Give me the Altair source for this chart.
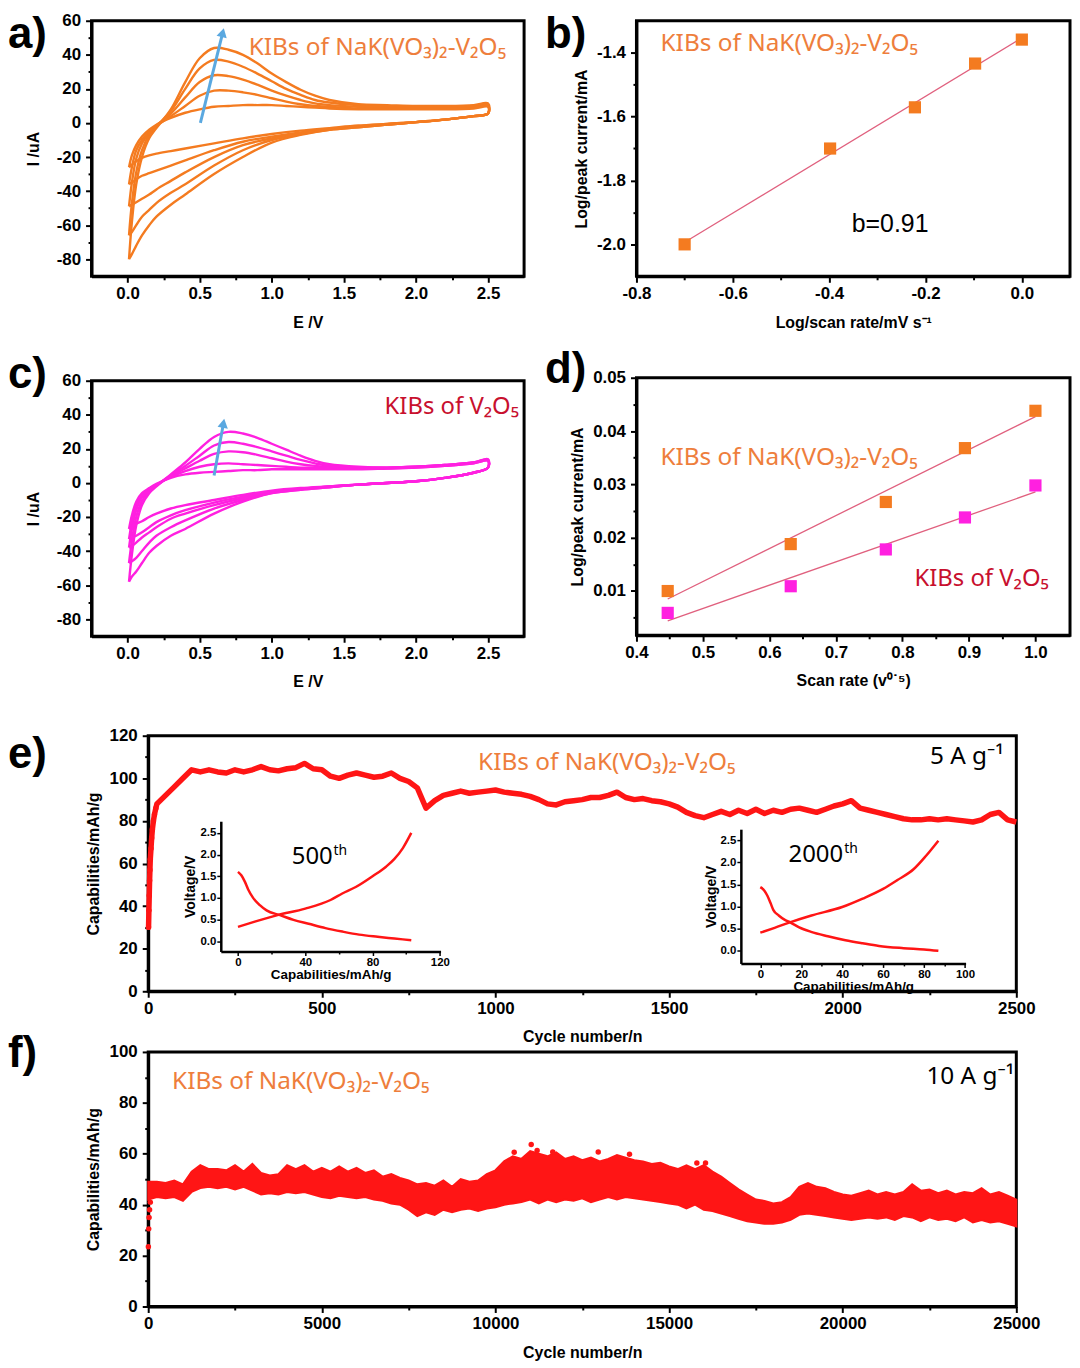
import altair as alt
import pandas as pd

FONT = "Liberation Sans"
ANN = "Noto Sans"
LBL = "Liberation Sans"

ORANGE = "#F47B20"
ORANGE_TXT = "#EE7E3C"
MAGENTA = "#FF20E0"
DARKRED = "#C8102E"
RED = "#FF1515"
FIT = "#E0607E"
BLUE = "#5AA8E0"

# ---------------- a) / c) cyclic voltammetry ----------------
E_ANODIC = [0.01, 0.03, 0.06, 0.1, 0.15, 0.2, 0.3, 0.4, 0.5, 0.6, 0.7, 0.8, 0.9, 1.0,
            1.1, 1.2, 1.3, 1.4, 1.6, 1.8, 2.0, 2.2, 2.4, 2.5]
E_CATHODIC = [2.5, 2.4, 2.2, 2.0, 1.8, 1.6, 1.4, 1.2, 1.0, 0.8, 0.6, 0.4, 0.3, 0.2, 0.15,
              0.1, 0.06, 0.03, 0.01]

A_ANODIC = [
    [-80, -58, -36, -20, -9, -3, 8, 24, 38, 44, 43, 40, 35, 29, 24, 19.5, 16, 13.5, 11, 10.5, 10, 10, 10.5, 11.5],
    [-66, -47, -29, -16, -7, -2, 7, 20, 32, 37, 36, 33, 29, 24.5, 20, 16.5, 13.5, 12, 10.5, 10, 9.5, 9.5, 10, 11],
    [-49, -35, -21, -12, -6, -1.5, 5.5, 15, 24, 28, 27.5, 25.5, 22.5, 19, 16, 13.5, 11.5, 10.5, 9.5, 9, 9, 9, 9.5, 10.5],
    [-36, -26, -16, -10, -5, -1.5, 4, 10, 16, 19, 19, 18, 16.5, 14.5, 12.5, 11, 10, 9.5, 8.5, 8.5, 8.5, 8.5, 9, 10],
    [-26, -19, -13, -8, -4, -1, 3, 6, 8, 9.5, 10, 10.5, 10.5, 10.5, 10, 9.5, 9, 8.5, 8, 8, 8, 8, 8.5, 9.5],
]
A_CATHODIC = [
    [5.5, 4, 2, 0.5, -1, -2.5, -4, -7, -11.5, -20, -30, -42, -48, -55, -60, -66, -72, -77, -80],
    [5.5, 4, 2, 0.5, -1, -2.5, -4, -6.5, -10, -16, -25, -36, -41, -47, -51, -55, -60, -64, -66],
    [5.5, 4, 2, 0.5, -1, -2, -3.5, -6, -9, -13, -20, -29, -34, -39, -42, -44.5, -46.5, -48, -49],
    [5.5, 4, 2, 0.5, -0.5, -2, -3.5, -5.5, -8, -11, -16, -22, -25, -28, -29.5, -31, -33, -35, -36],
    [5.5, 4, 2, 0.5, -0.5, -1.5, -3, -4.5, -6.5, -9, -12, -15, -16.5, -18, -19, -20.5, -22.5, -24.5, -26],
]
C_ANODIC = [
    [-58, -42, -25, -13, -6, -2, 5, 12, 20, 27, 30, 29, 26.5, 23, 19.5, 16, 13, 11, 9.5, 9, 9.5, 10.5, 12, 14],
    [-47, -34, -20, -10.5, -5, -1.5, 4.5, 10, 16, 22, 24, 23, 21, 18.5, 16, 13.5, 11.5, 10, 9, 9, 9.5, 10.5, 12, 13.5],
    [-38, -27, -16, -8.5, -4.5, -1.5, 4, 8.5, 13, 17, 18.5, 18, 16.5, 14.5, 12.5, 11, 10, 9.5, 9, 9, 9.5, 10.5, 12, 13.5],
    [-33, -23, -13, -7.5, -4, -1, 3.5, 7, 9.5, 11, 11.5, 11, 10.5, 10, 9.5, 9, 9, 8.5, 8.5, 8.5, 9, 10, 11.5, 13],
    [-27, -19, -11, -6, -3, -0.5, 3, 5, 6, 6.5, 7, 7.5, 7.5, 8, 8, 8, 8, 8, 8, 8.5, 9, 10, 11.5, 13],
]
C_CATHODIC = [
    [9, 6, 3, 1, 0, -1, -2.5, -4, -6, -11, -18, -27, -31, -37, -41, -47, -52, -55, -58],
    [9, 6, 3, 1, 0, -1, -2.5, -4, -6, -10, -15, -22, -26, -31, -35, -40, -44, -46, -47],
    [9, 6, 3, 1, 0, -1, -2, -3.5, -5.5, -9, -13, -18, -21, -26, -29, -32, -35, -37, -38],
    [9, 6, 3, 1, 0, -1, -2, -3.5, -5, -8, -11.5, -16, -19, -23, -26, -29, -31, -32, -33],
    [9, 6, 3, 1, 0, -1, -2, -3, -4.5, -7, -10, -13, -15, -18, -20, -22.5, -24, -26, -27],
]
ARROW_A_E = [0.505, 0.66]
ARROW_A_I = [0.0, 53.0]
ARROW_C_E = [0.60, 0.665]
ARROW_C_I = [4.4, 35.0]
CV_XDOM = [-0.25, 2.75]
CV_YDOM = [-90, 60]
CV_XTICKS = [0.0, 0.5, 1.0, 1.5, 2.0, 2.5]
CV_XMINOR = [0.25, 0.75, 1.25, 1.75, 2.25]
CV_YTICKS = [-80, -60, -40, -20, 0, 20, 40, 60]
CV_YMINOR = [-70, -50, -30, -10, 10, 30, 50]

# ---------------- b) ----------------
B_LOGV = [-0.7, -0.398, -0.222, -0.097, 0.0]
B_LOGI = [-2.0, -1.70, -1.571, -1.434, -1.359]
B_XDOM = [-0.8, 0.1]
B_YDOM = [-2.1, -1.3]
B_XTICKS = [-0.8, -0.6, -0.4, -0.2, 0.0]
B_XMINOR = [-0.7, -0.5, -0.3, -0.1]
B_YTICKS = [-2.0, -1.8, -1.6, -1.4]
B_YMINOR = [-1.9, -1.7, -1.5]

# ---------------- d) ----------------
D_SQRTV = [0.447, 0.632, 0.775, 0.894, 1.0]
D_NAK = [0.0100, 0.0188, 0.0267, 0.0368, 0.0438]
D_V2O5 = [0.0059, 0.0109, 0.0178, 0.0238, 0.0298]
D_XDOM = [0.4, 1.052]
D_YDOM = [0.0017, 0.05]
D_XTICKS = [0.4, 0.5, 0.6, 0.7, 0.8, 0.9, 1.0]
D_XMINOR = [0.45, 0.55, 0.65, 0.75, 0.85, 0.95]
D_YTICKS = [0.01, 0.02, 0.03, 0.04, 0.05]
D_YMINOR = [0.005, 0.015, 0.025, 0.035, 0.045]

# ---------------- e) 5 A/g cycling ----------------
E_EARLY_CYC = [1, 2, 3, 4, 5, 6, 8, 10, 12, 15, 18, 22]
E_EARLY_CAP = [30, 38, 45, 52, 57, 62, 67, 72, 76, 80, 83, 86]
E_CYC = list(range(25, 2501, 25))
E_CAP = [88, 92, 96, 100, 104, 103, 104, 103, 102.5, 104,
         103, 104, 105.5, 104, 103.5, 104.5, 105, 107, 104.5, 104,
         101, 100, 101.5, 102.5, 101.5, 100.5, 101, 102.5, 100, 98.5,
         95.5, 86, 89.5, 92, 93, 94, 93, 93.5, 94, 94.5,
         93.5, 93, 92.5, 91.5, 90, 88, 87.5, 89, 89.5, 90,
         91, 91, 92, 93.5, 91, 90, 90.5, 89.5, 89, 88,
         86.5, 84, 82.5, 81.5, 83, 84.5, 83, 85, 83.5, 85.5,
         83.5, 85, 84, 85.5, 86, 85, 84, 85.5, 87, 88,
         89.5, 86, 85, 84, 83, 82, 81, 80.5, 80.5, 81,
         80.5, 81, 80.5, 80, 79.5, 80.5, 83, 84, 80.5, 79.5]
E_XDOM = [0, 2500]
E_YDOM = [0, 120]
E_XTICKS = [0, 500, 1000, 1500, 2000, 2500]
E_XMINOR = [250, 750, 1250, 1750, 2250]
E_YTICKS = [0, 20, 40, 60, 80, 100, 120]
E_YMINOR = [10, 30, 50, 70, 90, 110]

INS1_CHG_Q = [0, 10, 23.5, 40, 55, 62, 70, 80, 88, 93, 98, 103]
INS1_CHG_V = [0.33, 0.45, 0.6, 0.75, 0.95, 1.1, 1.25, 1.5, 1.72, 1.9, 2.15, 2.5]
INS1_DIS_Q = [0, 2, 4, 6, 9, 13, 17, 25, 33, 42, 52, 62, 72, 83, 93, 103]
INS1_DIS_V = [1.6, 1.52, 1.38, 1.2, 1.0, 0.83, 0.71, 0.6, 0.49, 0.4, 0.3, 0.22, 0.15, 0.1, 0.06, 0.02]
INS2_CHG_Q = [0, 7, 14.8, 25, 40, 50, 60, 67, 75, 81, 87]
INS2_CHG_V = [0.41, 0.52, 0.65, 0.8, 0.99, 1.18, 1.4, 1.6, 1.85, 2.15, 2.49]
INS2_DIS_Q = [0, 2, 3.4, 5, 6.4, 9, 12, 14.8, 19, 24.8, 33, 41.6, 50, 58, 70, 80, 87]
INS2_DIS_V = [1.44, 1.36, 1.25, 1.08, 0.92, 0.8, 0.7, 0.64, 0.53, 0.43, 0.33, 0.24, 0.17, 0.11, 0.06, 0.03, 0.0]
INS1_XDOM = [-10.2, 120.4]
INS1_YDOM = [-0.24, 2.77]
INS2_XDOM = [-9.5, 100.3]
INS2_YDOM = [-0.285, 2.75]
INS1_XTICKS = [0, 40, 80, 120]
INS1_XMINOR = [20, 60, 100]
INS2_XTICKS = [0, 20, 40, 60, 80, 100]
INS2_XMINOR = [10, 30, 50, 70, 90]
INS_YTICKS = [0.0, 0.5, 1.0, 1.5, 2.0, 2.5]

# ---------------- f) 10 A/g cycling ----------------
F_CYC = list(range(0, 25001, 250))
F_LOW = [42, 43, 42.5, 43, 41.5, 45, 46.5, 47, 46.5, 47,
         46, 47, 45.5, 44, 44.5, 44, 45, 44.5, 45, 44,
         43, 42.5, 43.5, 43, 42.5, 43, 42, 41.5, 40.5, 40,
         38, 35.5, 37, 36, 38, 37, 38, 38.5, 37.5, 38.5,
         39, 40, 40.5, 41, 42, 40.5, 42, 41, 42, 41.5,
         42.5, 41, 42, 43, 42, 43, 42.5, 42, 41.5, 41,
         40.5, 40, 38.5, 40, 38, 37.5, 36.5, 35.5, 34.5, 33.5,
         33, 32.5, 32.5, 33, 34, 36, 36.5, 36, 35.5, 35,
         34.5, 34, 34.5, 35, 34.5, 35, 34, 35.5, 35, 33.5,
         35, 34, 34.5, 33.5, 35, 33, 34, 33, 33.5, 32.5,
         31.5]
F_UP = [49, 49, 48.5, 49.5, 48, 53, 55.5, 54, 54, 53.5,
        55.5, 53, 56, 52.5, 51.5, 52, 55.5, 54, 55.5, 53,
        54.5, 53, 55, 53, 54.5, 52.5, 53.5, 51, 52, 50.5,
        49.5, 48, 48.5, 47.5, 49.5, 47, 50, 49, 49.5, 52,
        53.5, 57, 59, 58, 61, 60, 59, 60.5, 58, 59,
        57.5, 58.5, 57, 58, 59.5, 58.5, 57.5, 57, 56, 56.5,
        55, 54, 55.5, 54, 55.5, 53, 51, 48.5, 46, 44,
        42, 41.5, 40.5, 41, 43, 47, 48.5, 47, 46.5, 45,
        44, 43.5, 44.5, 45.5, 44, 45, 44, 45, 48, 45.5,
        46, 44.5, 45.5, 44, 45, 44.5, 46.5, 44, 45, 43.5,
        42]
F_DOT_CYC = [5, 15, 25, 40, 60, 10540, 11030, 11200, 11650, 12960, 13860, 15800, 16050]
F_DOT_CAP = [23.5, 30.5, 35, 38, 41, 60.6, 63.6, 61.3, 60.7, 60.7, 59.8, 56.4, 56.4]
F_XDOM = [0, 25000]
F_YDOM = [0, 100]
F_XTICKS = [0, 5000, 10000, 15000, 20000, 25000]
F_XMINOR = [2500, 7500, 12500, 17500, 22500]
F_YTICKS = [0, 20, 40, 60, 80, 100]
F_YMINOR = [10, 30, 50, 70, 90]

NAK_TXT = "KIBs of NaK(VO\u2083)\u2082-V\u2082O\u2085"
V2O5_TXT = "KIBs of V\u2082O\u2085"
PANEL_LABELS = ["a)", "b)", "c)", "d)", "e)", "f)"]

# ---------------- layout (plot boxes in px: left, right, top, bottom) ----------------
W, H = 1068, 1302
BOX_A = (84, 519, 9, 266)
BOX_B = (632, 1068, 9, 266)
BOX_C = (84, 519, 371, 628)
BOX_D = (632, 1068, 368, 627)
BOX_E = (141, 1014, 728, 985)
BOX_F = (141, 1014, 1046, 1302)
BOX_I1 = (214, 435, 814, 945)
BOX_I2 = (737, 963, 822, 957)
LABEL_POS = [(0, 1), (540, 1), (0, 343), (540, 338), (0, 725), (0, 1026)]


# ---------------- helpers ----------------
def scales(xdom, ydom, box):
    xs = alt.Scale(domain=xdom, range=[box[0], box[1]], nice=False, zero=False)
    ys = alt.Scale(domain=ydom, range=[box[3], box[2]], nice=False, zero=False)
    return xs, ys


def xax(values, fmt, title, box, tsize=6, **kw):
    return alt.Axis(values=values, format=fmt, title=title, orient="bottom",
                    offset=box[3] - H, labelExpr="replace(datum.label, '\u2212', '-')",
                    tickSize=tsize, labelFlush=False, labelOverlap=False, grid=False, **kw)


def yax(values, fmt, title, box, tsize=6, **kw):
    return alt.Axis(values=values, format=fmt, title=title, orient="left",
                    offset=-box[0], labelExpr="replace(datum.label, '\u2212', '-')",
                    tickSize=tsize, labelFlush=False, labelOverlap=False, grid=False, **kw)


def minor_layer(xs, ys, box, xv, yv, xminor, yminor, tsize=3.5, tw=2):
    df = pd.DataFrame({"x": [xv], "y": [yv]})
    if xminor:
        xa = alt.Axis(values=xminor, orient="bottom", offset=box[3] - H, labels=False,
                      domain=False, title=None, tickSize=tsize, tickWidth=tw, grid=False)
        xenc = alt.X("x:Q", scale=xs, axis=xa)
    else:
        xenc = alt.X("x:Q", scale=xs, axis=None)
    if yminor:
        ya = alt.Axis(values=yminor, orient="left", offset=-box[0], labels=False,
                      domain=False, title=None, tickSize=tsize, tickWidth=tw, grid=False)
        yenc = alt.Y("y:Q", scale=ys, axis=ya)
    else:
        yenc = alt.Y("y:Q", scale=ys, axis=None)
    return alt.Chart(df).mark_point(opacity=0).encode(x=xenc, y=yenc)


def frame(xs, ys, xdom, ydom):
    df = pd.DataFrame({"x": [xdom[0]], "x2": [xdom[1]], "y": [ydom[0]], "y2": [ydom[1]]})
    return alt.Chart(df).mark_rect(fillOpacity=0, stroke="black", strokeWidth=3).encode(
        x=alt.X("x:Q", scale=xs, axis=None), x2="x2:Q",
        y=alt.Y("y:Q", scale=ys, axis=None), y2="y2:Q")


def note(t, x, y, xs, ys, size, color, align="left", font=ANN, dx=0, dy=0):
    return alt.Chart(pd.DataFrame({"x": [x], "y": [y], "t": [t]})).mark_text(
        align=align, baseline="middle", fontSize=size, font=font, color=color,
        fontWeight="normal", dx=dx, dy=dy).encode(
        x=alt.X("x:Q", scale=xs, axis=None), y=alt.Y("y:Q", scale=ys, axis=None),
        text="t:N")


def plabel(t, px, py):
    return alt.Chart(pd.DataFrame({"t": [t]})).mark_text(
        font=LBL, fontSize=44, fontWeight="bold", align="left", baseline="top",
        color="black").encode(text="t:N", x=alt.value(px), y=alt.value(py))


def cv_panel(anodic, cathodic, color, arrow_e, arrow_i, arrow_angle, txt, box):
    rows = []
    for k in range(len(anodic)):
        o = 0
        for e, i in zip(E_ANODIC, anodic[k]):
            rows.append({"E": e, "I": i, "curve": k, "o": o})
            o += 1
        for e, i in zip(E_CATHODIC, cathodic[k]):
            rows.append({"E": e, "I": i, "curve": k, "o": o})
            o += 1
    df = pd.DataFrame(rows)
    xs, ys = scales(CV_XDOM, CV_YDOM, box)
    lines = alt.Chart(df).mark_line(color=color, strokeWidth=2.4,
                                    interpolate="catmull-rom").encode(
        x=alt.X("E:Q", scale=xs, axis=xax(CV_XTICKS, ".1f", "E /V", box,
                                          labelPadding=3, titlePadding=13)),
        y=alt.Y("I:Q", scale=ys, axis=yax(CV_YTICKS, "d", "I /uA", box,
                                          labelPadding=5, titlePadding=15)),
        detail="curve:N", order="o:Q")
    adf = pd.DataFrame({"E": arrow_e, "I": arrow_i})
    aline = alt.Chart(adf).mark_line(color=BLUE, strokeWidth=3).encode(
        x=alt.X("E:Q", scale=xs, axis=None), y=alt.Y("I:Q", scale=ys, axis=None))
    ahead = alt.Chart(adf.iloc[[1]]).mark_point(
        shape="triangle-up", filled=True, size=110, angle=arrow_angle, color=BLUE,
        opacity=1).encode(x=alt.X("E:Q", scale=xs, axis=None),
                          y=alt.Y("I:Q", scale=ys, axis=None))
    t, x, y, c, al, sz = txt
    return alt.layer(
        frame(xs, ys, CV_XDOM, CV_YDOM), lines,
        minor_layer(xs, ys, box, 1.0, 0.0, CV_XMINOR, CV_YMINOR),
        aline, ahead, note(t, x, y, xs, ys, sz, c, align=al),
    ).resolve_axis(x="independent", y="independent")


# ---------------- panels ----------------
panel_a = cv_panel(A_ANODIC, A_CATHODIC, ORANGE, ARROW_A_E, ARROW_A_I, 14,
                   (NAK_TXT, 0.84, 44, ORANGE_TXT, "left", 24.5), BOX_A)
panel_c = cv_panel(C_ANODIC, C_CATHODIC, MAGENTA, ARROW_C_E, ARROW_C_I, 10,
                   (V2O5_TXT, 2.715, 44.5, DARKRED, "right", 24), BOX_C)

# b
xs_b, ys_b = scales(B_XDOM, B_YDOM, BOX_B)
df_b = pd.DataFrame({"x": B_LOGV, "y": B_LOGI})
fit_b = alt.Chart(df_b).transform_regression("x", "y", extent=[-0.7, 0.0]).mark_line(
    color=FIT, strokeWidth=1.3).encode(
    x=alt.X("x:Q", scale=xs_b, axis=xax(B_XTICKS, ".1f", "Log/scan rate/mV s\u207b\u00b9",
                                        BOX_B, labelPadding=3, titlePadding=13)),
    y=alt.Y("y:Q", scale=ys_b, axis=yax(B_YTICKS, ".1f", "Log/peak current/mA", BOX_B,
                                        labelPadding=5, titlePadding=7)))
pts_b = alt.Chart(df_b).mark_point(shape="square", filled=True, size=150, color=ORANGE,
                                   opacity=1).encode(
    x=alt.X("x:Q", scale=xs_b, axis=None), y=alt.Y("y:Q", scale=ys_b, axis=None))
panel_b = alt.layer(
    frame(xs_b, ys_b, B_XDOM, B_YDOM), fit_b,
    minor_layer(xs_b, ys_b, BOX_B, -0.4, -1.7, B_XMINOR, B_YMINOR), pts_b,
    note(NAK_TXT, -0.75, -1.372, xs_b, ys_b, 24.5, ORANGE_TXT),
    note("b=0.91", -0.353, -1.935, xs_b, ys_b, 25, "black", font=FONT),
).resolve_axis(x="independent", y="independent")

# d
xs_d, ys_d = scales(D_XDOM, D_YDOM, BOX_D)
df_d = pd.DataFrame({"x": D_SQRTV + D_SQRTV, "y": D_NAK + D_V2O5,
                     "s": ["NaK"] * len(D_NAK) + ["V2O5"] * len(D_V2O5)})
fit_d = alt.Chart(df_d).transform_regression(
    "x", "y", groupby=["s"], extent=[0.447, 1.0]).mark_line(
    color=FIT, strokeWidth=1.3).encode(
    x=alt.X("x:Q", scale=xs_d, axis=xax(D_XTICKS, ".1f", "Scan rate (v\u2070\u02d9\u2075)",
                                        BOX_D, labelPadding=3, titlePadding=13)),
    y=alt.Y("y:Q", scale=ys_d, axis=yax(D_YTICKS, ".2f", "Log/peak current/mA", BOX_D,
                                        labelPadding=5, titlePadding=7)),
    detail="s:N")
pts_d = alt.Chart(df_d).mark_point(shape="square", filled=True, size=150,
                                   opacity=1).encode(
    x=alt.X("x:Q", scale=xs_d, axis=None), y=alt.Y("y:Q", scale=ys_d, axis=None),
    color=alt.Color("s:N", scale=alt.Scale(domain=["NaK", "V2O5"],
                                           range=[ORANGE, MAGENTA]), legend=None))
panel_d = alt.layer(
    frame(xs_d, ys_d, D_XDOM, D_YDOM), fit_d,
    minor_layer(xs_d, ys_d, BOX_D, 0.7, 0.02, D_XMINOR, D_YMINOR), pts_d,
    note(NAK_TXT, 0.436, 0.0349, xs_d, ys_d, 24.5, ORANGE_TXT),
    note(V2O5_TXT, 0.818, 0.0123, xs_d, ys_d, 24, DARKRED),
).resolve_axis(x="independent", y="independent")

# e
xs_e, ys_e = scales(E_XDOM, E_YDOM, BOX_E)
df_e = pd.DataFrame({"cyc": E_EARLY_CYC + E_CYC, "cap": E_EARLY_CAP + E_CAP})
df_e0 = pd.DataFrame({"cyc": E_EARLY_CYC, "cap": E_EARLY_CAP})
line_e = alt.Chart(df_e).mark_line(color=RED, strokeWidth=5.5, strokeJoin="round").encode(
    x=alt.X("cyc:Q", scale=xs_e, axis=xax(E_XTICKS, "d", "Cycle number/n", BOX_E,
                                          labelPadding=3, titlePadding=13)),
    y=alt.Y("cap:Q", scale=ys_e, axis=yax(E_YTICKS, "d", "Capabilities/mAh/g", BOX_E,
                                          labelPadding=5, titlePadding=8)))
pts_e = alt.Chart(df_e0).mark_circle(color=RED, size=30, opacity=1).encode(
    x=alt.X("cyc:Q", scale=xs_e, axis=None), y=alt.Y("cap:Q", scale=ys_e, axis=None))
panel_e = alt.layer(
    frame(xs_e, ys_e, E_XDOM, E_YDOM), line_e,
    minor_layer(xs_e, ys_e, BOX_E, 1000, 50, E_XMINOR, E_YMINOR), pts_e,
    note(NAK_TXT, 950, 107.4, xs_e, ys_e, 24.5, ORANGE_TXT),
    note("5 A g\u207b\u00b9", 2464, 110, xs_e, ys_e, 24.5, "black", align="right"),
).resolve_axis(x="independent", y="independent")


def inset(chg_q, chg_v, dis_q, dis_v, xdom, ydom, box, xticks, xminor,
          lab, lab_q, lab_v, th_dx):
    rows = [{"q": q, "v": v, "b": "c", "o": i} for i, (q, v) in enumerate(zip(chg_q, chg_v))]
    rows += [{"q": q, "v": v, "b": "d", "o": i} for i, (q, v) in enumerate(zip(dis_q, dis_v))]
    df = pd.DataFrame(rows)
    xs, ys = scales(xdom, ydom, box)
    ln = alt.Chart(df).mark_line(color=RED, strokeWidth=2.5,
                                 interpolate="monotone").encode(
        x=alt.X("q:Q", scale=xs, axis=xax(xticks, "d", "Capabilities/mAh/g", box,
                                          tsize=4, labelFontSize=11.5, titleFontSize=13.5,
                                          labelPadding=1, titlePadding=0,
                                          domainWidth=2.5, tickWidth=1.5)),
        y=alt.Y("v:Q", scale=ys, axis=yax(INS_YTICKS, ".1f", "Voltage/V", box,
                                          tsize=4, labelFontSize=11.5, titleFontSize=14,
                                          labelPadding=1, titlePadding=2,
                                          domainWidth=2.5, tickWidth=1.5)),
        detail="b:N", order="o:Q")
    return alt.layer(
        ln,
        minor_layer(xs, ys, box, 50, 1.0, xminor, None, tsize=2.5, tw=1.5),
        note(lab, lab_q, lab_v, xs, ys, 24, "black"),
        note("th", lab_q, lab_v, xs, ys, 14, "black", dx=th_dx, dy=-6),
    ).resolve_axis(x="independent", y="independent")


inset1 = inset(INS1_CHG_Q, INS1_CHG_V, INS1_DIS_Q, INS1_DIS_V, INS1_XDOM, INS1_YDOM,
               BOX_I1, INS1_XTICKS, INS1_XMINOR, "500", 32, 1.94, 42)
inset2 = inset(INS2_CHG_Q, INS2_CHG_V, INS2_DIS_Q, INS2_DIS_V, INS2_XDOM, INS2_YDOM,
               BOX_I2, INS2_XTICKS, INS2_XMINOR, "2000", 13.8, 2.16, 56)

# f
xs_f, ys_f = scales(F_XDOM, F_YDOM, BOX_F)
df_f = pd.DataFrame({"cyc": F_CYC, "lo": F_LOW, "hi": F_UP})
band_f = alt.Chart(df_f).mark_area(color=RED, opacity=1, stroke=RED, strokeWidth=2).encode(
    x=alt.X("cyc:Q", scale=xs_f, axis=xax(F_XTICKS, "d", "Cycle number/n", BOX_F,
                                          labelPadding=3, titlePadding=13)),
    y=alt.Y("lo:Q", scale=ys_f, axis=yax(F_YTICKS, "d", "Capabilities/mAh/g", BOX_F,
                                         labelPadding=5, titlePadding=8)),
    y2="hi:Q")
dots_f = alt.Chart(pd.DataFrame({"cyc": F_DOT_CYC, "cap": F_DOT_CAP})).mark_circle(
    color=RED, size=30, opacity=1).encode(
    x=alt.X("cyc:Q", scale=xs_f, axis=None), y=alt.Y("cap:Q", scale=ys_f, axis=None))
panel_f = alt.layer(
    frame(xs_f, ys_f, F_XDOM, F_YDOM), band_f,
    minor_layer(xs_f, ys_f, BOX_F, 10000, 50, F_XMINOR, F_YMINOR), dots_f,
    note(NAK_TXT, 687, 88.3, xs_f, ys_f, 24.5, ORANGE_TXT),
    note("10 A g\u207b\u00b9", 24940, 90.2, xs_f, ys_f, 24.5, "black", align="right"),
).resolve_axis(x="independent", y="independent")

labels = alt.layer(*[plabel(t, p[0], p[1]) for t, p in zip(PANEL_LABELS, LABEL_POS)])

chart = alt.layer(
    panel_a, panel_b, panel_c, panel_d, panel_e, inset1, inset2, panel_f, labels,
).resolve_scale(x="independent", y="independent").properties(
    width=W, height=H, padding=0
).configure_view(
    strokeWidth=0
).configure_axis(
    domainColor="black", domainWidth=3, tickColor="black", tickWidth=2,
    labelFont=FONT, labelFontSize=17, labelFontWeight="bold", labelColor="black",
    titleFont=FONT, titleFontSize=16, titleFontWeight="bold", titleColor="black",
)

chart.save("out.html", embed_options={"renderer": "svg", "actions": False})
